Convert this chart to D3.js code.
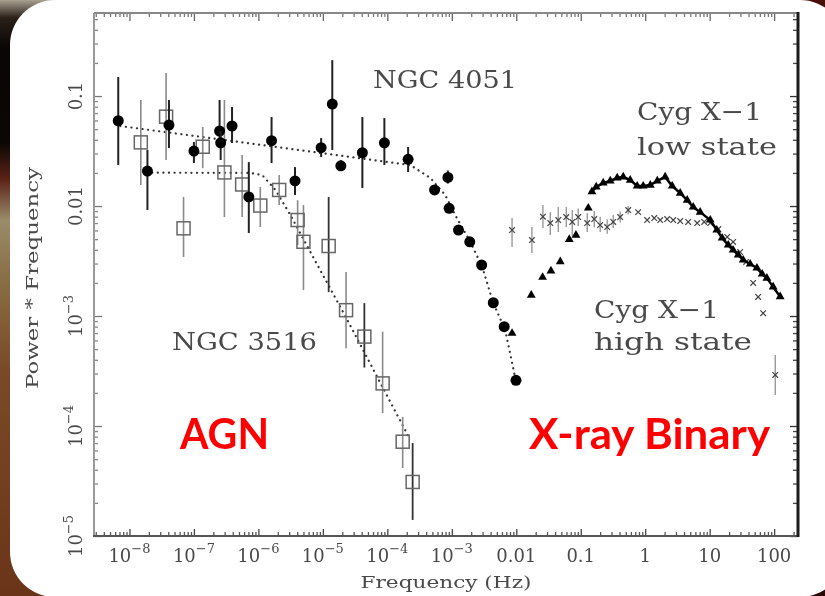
<!DOCTYPE html>
<html>
<head>
<meta charset="utf-8">
<script src="https://cdn.jsdelivr.net/npm/d3@7"></script>
<style>
  html, body { margin: 0; padding: 0; background: #000; }
  svg { display: block; }
</style>
</head>
<body>
<svg id="chart" width="825" height="596"></svg>
<script>
// ---- Data: [frequency (Hz), power*frequency, lower error, upper error] ----
const ngc4051 = [
  [6.7e-9, 0.0596, 0.0236, 0.149],
  [1.9e-8, 0.0208, 0.0092, 0.0323],
  [4.1e-8, 0.0545, 0.0337, 0.092],
  [1.0e-7, 0.0316, 0.0246, 0.0382],
  [2.5e-7, 0.0481, 0.037, 0.092],
  [2.6e-7, 0.0376, 0.0262, 0.048],
  [3.9e-7, 0.0534, 0.0374, 0.0794],
  [7.1e-7, 0.0121, 0.00569, 0.0251],
  [1.6e-6, 0.0393, 0.0246, 0.0644],
  [3.7e-6, 0.0169, 0.0126, 0.0226],
  [9.4e-6, 0.0339, 0.0279, 0.0415],
  [1.4e-5, 0.0846, 0.0323, 0.212],
  [1.9e-5, 0.0232, 0.021, 0.026],
  [4.1e-5, 0.0305, 0.0146, 0.0644],
  [9.0e-5, 0.0376, 0.0236, 0.063],
  [2.1e-4, 0.0266, 0.0204, 0.0344],
  [5.4e-4, 0.0140, null, null],
  [8.7e-4, 0.0182, 0.016, 0.021],
  [9.1e-4, 0.00953, null, null],
  [1.27e-3, 0.00605, null, null],
  [1.9e-3, 0.00473, null, null],
  [2.9e-3, 0.00291, null, null],
  [4.4e-3, 0.00132, null, null],
  [6.5e-3, 8.0e-4, null, null],
  [9.9e-3, 2.6e-4, null, null]
];

const ngc3516 = [
  [1.5e-8, 0.0379, 0.0155, 0.092],
  [3.7e-8, 0.0649, 0.0262, 0.162],
  [6.9e-8, 0.00627, 0.00344, 0.0121],
  [1.37e-7, 0.0346, 0.0221, 0.0523],
  [2.97e-7, 0.0202, 0.00794, 0.092],
  [5.6e-7, 0.0157, 0.00794, 0.0291],
  [1.07e-6, 0.0101, 0.00644, 0.0149],
  [2.1e-6, 0.0140, 0.0102, 0.0191],
  [4.06e-6, 0.00746, 0.00442, 0.0113],
  [5.0e-6, 0.00473, 0.00172, 0.0102],
  [1.23e-5, 0.00433, 0.00165, 0.0121],
  [2.29e-5, 0.00113, 5.1e-4, 0.00251],
  [4.4e-5, 6.5e-4, 3.4e-4, 0.00131],
  [8.45e-5, 2.44e-4, 1.31e-4, 7.2e-4],
  [1.73e-4, 7.2e-5, 4.15e-5, 1.21e-4],
  [2.47e-4, 3.1e-5, 1.4e-5, 7.0e-5]
];

// Broken power-law model curves (frequency, power*frequency)
const ngc4051Model = [
  [7.2e-9, 0.0534], [2.28e-4, 0.0236], [4.65e-4, 0.018], [7.9e-4, 0.0126],
  [1.13e-3, 0.00828], [1.94e-3, 0.00471], [2.97e-3, 0.00279],
  [4.4e-3, 0.00131], [6.75e-3, 7.46e-4], [9.64e-3, 2.73e-4]
];
const ngc3516Model = [
  [2.25e-8, 0.0201], [7.5e-7, 0.0200], [1.15e-6, 0.0191], [1.84e-6, 0.0140],
  [3.14e-6, 0.00828], [6.4e-6, 0.00382], [2.4e-5, 9.2e-4],
  [7.8e-5, 2.46e-4], [2.27e-4, 7.5e-5]
];

// Cyg X-1 low state (filled triangles)
const cygLowFreq = [8.6e-3, 0.0171, 0.0256, 0.0345, 0.0481, 0.0664, 0.0843, 0.131,
  0.149, 0.174, 0.223, 0.287, 0.368, 0.456, 0.585, 0.751, 0.931, 1.20, 1.54, 2.04,
  2.62, 3.49, 4.48, 5.55, 7.12, 10.2, 12.9, 15.6, 19.4, 23.1, 27.7, 33.1, 42.5,
  54.0, 65.2, 77.1, 96.5, 124];
const cygLowPower = [6.97e-4, 1.55e-3, 2.25e-3, 2.57e-3, 3.12e-3, 4.98e-3, 5.44e-3, 9.59e-3,
  0.0135, 0.0149, 0.0162, 0.0169, 0.0180, 0.0184, 0.0172, 0.0152, 0.0152, 0.0155, 0.0169, 0.0184,
  0.0152, 0.0131, 0.0113, 0.0098, 0.0088, 0.00746, 0.00605, 0.00512, 0.00442, 0.00398, 0.00359, 0.00323, 0.00297,
  0.00273, 0.00241, 0.00221, 0.00184, 0.0015];

// Cyg X-1 high state (crosses): [frequency, power*frequency, lower, upper]
const cygHigh = [
  [8.6e-3, 0.00605, 0.00424, 0.00778],
  [0.0175, 0.00491, 0.00374, 0.00644],
  [0.0259, 0.0080, 0.00631, 0.0102],
  [0.0337, 0.0070, 0.00544, 0.0088],
  [0.0448, 0.00746, 0.00581, 0.0098],
  [0.0596, 0.00794, 0.00644, 0.0098],
  [0.0738, 0.00716, 0.00533, 0.0092],
  [0.0914, 0.00794, 0.0066, 0.0095],
  [0.126, 0.0070, 0.0058, 0.0086],
  [0.162, 0.00762, 0.0064, 0.0090],
  [0.200, 0.00671, 0.0058, 0.0080],
  [0.257, 0.00644, 0.0056, 0.0076],
  [0.319, 0.00716, 0.0063, 0.0083],
  [0.409, 0.00794, 0.0071, 0.0089],
  [0.545, 0.0092, 0.0084, 0.0100],
  [0.778, 0.0088, null, null],
  [1.07, 0.00746, null, null],
  [1.38, 0.00778, null, null],
  [1.71, 0.00746, null, null],
  [2.19, 0.00762, null, null],
  [2.72, 0.00746, null, null],
  [3.49, 0.0073, null, null],
  [4.64, 0.00716, null, null],
  [6.40, 0.0070, null, null],
  [8.22, 0.00716, null, null],
  [10.2, 0.0070, null, null],
  [13.6, 0.00618, null, null],
  [18.7, 0.00523, null, null],
  [23.1, 0.00471, null, null],
  [29.7, 0.00382, null, null],
  [36.8, 0.0031, null, null],
  [47.2, 0.0020, null, null],
  [56.5, 0.00149, null, null],
  [67.5, 0.00106, null, null],
  [104, 2.91e-4, 1.91e-4, 4.42e-4]
];

// Axis tick labels: [mantissa, exponent]
const xTickValues = [1e-8, 1e-7, 1e-6, 1e-5, 1e-4, 1e-3, 0.01, 0.1, 1, 10, 100];
const xTickLabels = [["10","−8"],["10","−7"],["10","−6"],["10","−5"],["10","−4"],["10","−3"],
                     ["0.01",""],["0.1",""],["1",""],["10",""],["100",""]];
const yTickValues = [1e-5, 1e-4, 1e-3, 0.01, 0.1];
const yTickLabels = [["10","−5"],["10","−4"],["10","−3"],["0.01",""],["0.1",""]];

// ---- Layout ----
const svg = d3.select("#chart");
const plot = { left: 94, right: 798, top: 13, bottom: 536 };

const x = d3.scaleLog().domain([Math.pow(10, -8.55), Math.pow(10, 2.37)]).range([plot.left, plot.right]);
const y = d3.scaleLog().domain([1e-5, Math.pow(10, -0.245)]).range([plot.bottom, plot.top]);

// ---- Slide background ----
const defs = svg.append("defs");
const bg = defs.append("linearGradient").attr("id", "bgGrad").attr("x1", 0).attr("y1", 0).attr("x2", 0).attr("y2", 1);
[["0%", "#a8a090"], ["3%", "#2a2018"], ["8%", "#0a0605"], ["24%", "#0c0705"], ["30%", "#5a2216"],
 ["37%", "#9a8c6a"], ["46%", "#8a7048"], ["62%", "#7a4a28"], ["100%", "#6a3418"]]
  .forEach(([o, c]) => bg.append("stop").attr("offset", o).attr("stop-color", c));
const bgR = defs.append("linearGradient").attr("id", "bgGradR").attr("x1", 0).attr("y1", 0).attr("x2", 0).attr("y2", 1);
bgR.append("stop").attr("offset", "0%").attr("stop-color", "#4a1008");
bgR.append("stop").attr("offset", "100%").attr("stop-color", "#2a0804");

defs.append("filter").attr("id", "soft")
  .append("feGaussianBlur").attr("stdDeviation", 0.7);

svg.append("rect").attr("width", 825).attr("height", 596).attr("fill", "url(#bgGrad)");
svg.append("rect").attr("x", 700).attr("width", 125).attr("height", 596).attr("fill", "url(#bgGradR)");
svg.append("rect").attr("x", 10).attr("y", 0).attr("width", 835).attr("height", 597)
  .attr("rx", 45).attr("ry", 45).attr("fill", "#ffffff");

const g = svg.append("g").attr("filter", "url(#soft)");

// ---- Axes (ticks point inward on all four sides) ----
const decades = d3.range(-9, 3);
const minorTicks = [];
decades.forEach(k => { for (let m = 2; m <= 9; m++) minorTicks.push(m * Math.pow(10, k)); });
const xMinor = minorTicks.filter(v => v >= x.domain()[0] && v <= x.domain()[1]);
const yMinor = minorTicks.filter(v => v >= y.domain()[0] && v <= y.domain()[1]);
const yMajor = yTickValues;

function styleAxis(sel, color) {
  sel.select(".domain").remove();
  sel.selectAll(".tick line").attr("stroke", color).attr("stroke-width", 1.3);
}

const bottomG = g.append("g").attr("transform", `translate(0,${plot.bottom})`);
bottomG.append("g").call(d3.axisBottom(x).tickValues(xTickValues).tickSize(-7).tickFormat("")).call(s => styleAxis(s, "#444"));
bottomG.append("g").call(d3.axisBottom(x).tickValues(xMinor).tickSize(-4).tickFormat("")).call(s => styleAxis(s, "#555"));

const topG = g.append("g").attr("transform", `translate(0,${plot.top})`);
topG.append("g").call(d3.axisTop(x).tickValues(xTickValues).tickSize(-8).tickFormat("")).call(s => styleAxis(s, "#666"));
topG.append("g").call(d3.axisTop(x).tickValues(xMinor).tickSize(-4).tickFormat("")).call(s => styleAxis(s, "#777"));

const leftG = g.append("g").attr("transform", `translate(${plot.left},0)`);
leftG.append("g").call(d3.axisLeft(y).tickValues(yMajor).tickSize(-8).tickFormat("")).call(s => styleAxis(s, "#777"));
leftG.append("g").call(d3.axisLeft(y).tickValues(yMinor).tickSize(-4).tickFormat("")).call(s => styleAxis(s, "#888"));

const rightG = g.append("g").attr("transform", `translate(${plot.right},0)`);
rightG.append("g").call(d3.axisRight(y).tickValues(yMajor).tickSize(-8).tickFormat("")).call(s => styleAxis(s, "#333"));
rightG.append("g").call(d3.axisRight(y).tickValues(yMinor).tickSize(-5).tickFormat("")).call(s => styleAxis(s, "#444"));

// frame
g.append("line").attr("x1", plot.left).attr("x2", plot.right).attr("y1", plot.top).attr("y2", plot.top).attr("stroke", "#888").attr("stroke-width", 2);
g.append("line").attr("x1", plot.left).attr("x2", plot.left).attr("y1", plot.top).attr("y2", plot.bottom).attr("stroke", "#999").attr("stroke-width", 2);
g.append("line").attr("x1", plot.left - 1).attr("x2", plot.right + 1).attr("y1", plot.bottom).attr("y2", plot.bottom).attr("stroke", "#555").attr("stroke-width", 2.2);
g.append("line").attr("x1", plot.right).attr("x2", plot.right).attr("y1", plot.top - 1).attr("y2", plot.bottom + 1).attr("stroke", "#1a1a1a").attr("stroke-width", 3);

// tick labels
const serif = "'DejaVu Serif', 'Liberation Serif', serif";
const xl = g.append("g").attr("font-family", serif).attr("fill", "#4a4a4a");
xTickValues.forEach((v, i) => {
  const t = xl.append("text").attr("x", x(v)).attr("y", 562).attr("text-anchor", "middle").attr("font-size", 18);
  t.append("tspan").text(xTickLabels[i][0]);
  if (xTickLabels[i][1]) t.append("tspan").attr("dy", -9).attr("font-size", 13).text(xTickLabels[i][1]);
});
const yl = g.append("g").attr("font-family", serif).attr("fill", "#4a4a4a");
yTickValues.forEach((v, i) => {
  const t = yl.append("text").attr("transform", `translate(82,${y(v)}) rotate(-90)`)
    .attr("text-anchor", "middle").attr("font-size", 18);
  t.append("tspan").text(yTickLabels[i][0]);
  if (yTickLabels[i][1]) t.append("tspan").attr("dy", -9).attr("font-size", 13).text(yTickLabels[i][1]);
});

// axis titles
g.append("text").attr("x", 446).attr("y", 588).attr("text-anchor", "middle")
  .attr("font-family", serif).attr("font-size", 17).attr("fill", "#4a4a4a")
  .attr("textLength", 171).attr("lengthAdjust", "spacingAndGlyphs").text("Frequency (Hz)");
g.append("text").attr("transform", "translate(38,278) rotate(-90)").attr("text-anchor", "middle")
  .attr("font-family", serif).attr("font-size", 17).attr("fill", "#4a4a4a")
  .attr("textLength", 222).attr("lengthAdjust", "spacingAndGlyphs").text("Power * Frequency");

// ---- Model curves (dotted) ----
const line = d3.line().x(d => x(d[0])).y(d => y(d[1]));
[ngc4051Model, ngc3516Model].forEach(m => {
  g.append("path").attr("d", line(m)).attr("fill", "none").attr("stroke", "#333")
    .attr("stroke-width", 2.2).attr("stroke-linecap", "round").attr("stroke-dasharray", "0.1,5.5");
});

// ---- NGC 3516: open squares with light error bars (a few drawn darker) ----
const darkBars3516 = [10, 12, 15];
const s3516 = g.append("g");
ngc3516.forEach((d, i) => {
  if (d[2] != null) s3516.append("line").attr("x1", x(d[0])).attr("x2", x(d[0]))
    .attr("y1", y(d[2])).attr("y2", y(d[3]))
    .attr("stroke", darkBars3516.includes(i) ? "#333" : "#8a8a8a")
    .attr("stroke-width", darkBars3516.includes(i) ? 1.8 : 1.6);
});
ngc3516.forEach(d => {
  s3516.append("rect").attr("x", x(d[0]) - 6.5).attr("y", y(d[1]) - 6.5).attr("width", 13).attr("height", 13)
    .attr("fill", "none").attr("stroke", "#666").attr("stroke-width", 1.5);
});

// ---- NGC 4051: filled circles with dark error bars ----
const s4051 = g.append("g");
ngc4051.forEach(d => {
  if (d[2] != null) s4051.append("line").attr("x1", x(d[0])).attr("x2", x(d[0]))
    .attr("y1", y(d[2])).attr("y2", y(d[3])).attr("stroke", "#222").attr("stroke-width", 2);
  s4051.append("circle").attr("cx", x(d[0])).attr("cy", y(d[1])).attr("r", 5.5).attr("fill", "#000");
});

// ---- Cyg X-1 high state: crosses with thin error bars ----
const sHigh = g.append("g").attr("stroke", "#444").attr("stroke-width", 1.2);
cygHigh.forEach(d => {
  const cx = x(d[0]), cy = y(d[1]);
  if (d[2] != null) sHigh.append("line").attr("x1", cx).attr("x2", cx).attr("y1", y(d[2])).attr("y2", y(d[3])).attr("stroke", "#888");
  sHigh.append("path").attr("d", `M${cx-2.8},${cy-2.8}L${cx+2.8},${cy+2.8}M${cx-2.8},${cy+2.8}L${cx+2.8},${cy-2.8}`);
});

// ---- Cyg X-1 low state: filled triangles ----
const lowPts = cygLowFreq.map((f, i) => [f, cygLowPower[i]]);
g.append("path").attr("d", line(lowPts.slice(8))).attr("fill", "none").attr("stroke", "#000").attr("stroke-width", 2.5);
const tri = d3.symbol().type(d3.symbolTriangle).size(34);
g.append("g").selectAll("path").data(lowPts).join("path")
  .attr("transform", d => `translate(${x(d[0])},${y(d[1])})`).attr("d", tri).attr("fill", "#000");

// ---- Annotations ----
const ann = g.append("g").attr("font-family", serif).attr("fill", "#4a4a4a").attr("font-size", 25);
ann.append("text").attr("x", 373).attr("y", 88).attr("textLength", 144).attr("lengthAdjust", "spacingAndGlyphs").text("NGC 4051");
ann.append("text").attr("x", 172).attr("y", 350).attr("textLength", 145).attr("lengthAdjust", "spacingAndGlyphs").text("NGC 3516");
ann.append("text").attr("x", 637).attr("y", 120).attr("textLength", 125).attr("lengthAdjust", "spacingAndGlyphs").text("Cyg X−1");
ann.append("text").attr("x", 637).attr("y", 155).attr("textLength", 140).attr("lengthAdjust", "spacingAndGlyphs").text("low state");
ann.append("text").attr("x", 594).attr("y", 318).attr("textLength", 125).attr("lengthAdjust", "spacingAndGlyphs").text("Cyg X−1");
ann.append("text").attr("x", 594).attr("y", 350).attr("textLength", 158).attr("lengthAdjust", "spacingAndGlyphs").text("high state");

// red category labels
const red = svg.append("g").attr("font-family", "Lato, 'Open Sans', sans-serif").attr("font-weight", 700)
  .attr("fill", "#ff0000").attr("font-size", 42);
red.append("text").attr("x", 180).attr("y", 449).attr("textLength", 89).attr("lengthAdjust", "spacingAndGlyphs").text("AGN");
red.append("text").attr("x", 529).attr("y", 449).attr("textLength", 241).attr("lengthAdjust", "spacingAndGlyphs").text("X-ray Binary");
</script>
</body>
</html>
